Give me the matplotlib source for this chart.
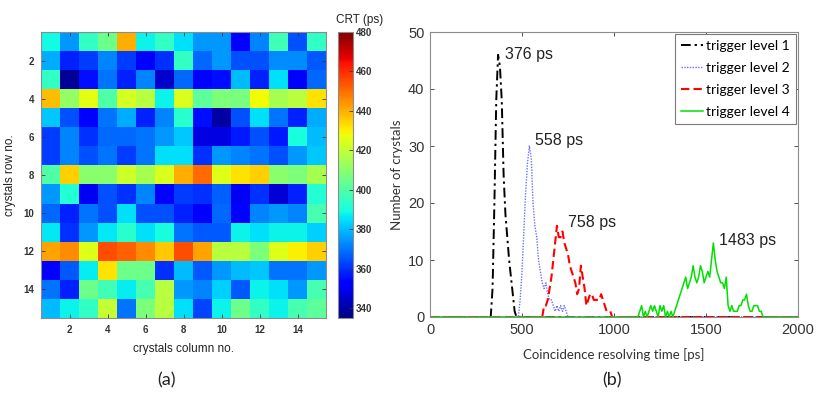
import numpy as np
import matplotlib
matplotlib.use("Agg")
import matplotlib.pyplot as plt

# ---- CRT map (ps), 15 x 15 crystals, row 1 at top ----
crt_map = [
    [389, 375, 395, 405, 440, 388, 395, 385, 375, 375, 352, 372, 397, 365, 395],
    [378, 358, 362, 372, 362, 352, 360, 395, 368, 375, 365, 365, 373, 373, 366],
    [395, 338, 355, 370, 358, 372, 345, 368, 353, 355, 380, 358, 385, 352, 368],
    [438, 412, 426, 400, 423, 418, 388, 424, 402, 408, 407, 428, 415, 418, 432],
    [382, 365, 352, 370, 378, 358, 372, 393, 355, 340, 365, 385, 370, 358, 378],
    [362, 372, 360, 368, 368, 370, 375, 382, 348, 348, 357, 365, 357, 390, 380],
    [362, 372, 365, 370, 362, 370, 385, 385, 360, 375, 372, 370, 365, 375, 382],
    [400, 435, 410, 410, 422, 415, 424, 440, 450, 425, 432, 435, 410, 408, 415],
    [375, 392, 350, 365, 360, 372, 353, 362, 360, 367, 350, 360, 346, 358, 392],
    [368, 358, 370, 365, 385, 365, 365, 358, 352, 368, 352, 372, 375, 372, 398],
    [386, 360, 375, 386, 393, 385, 390, 370, 366, 366, 388, 385, 388, 388, 383],
    [442, 445, 425, 455, 452, 445, 436, 455, 442, 418, 418, 408, 425, 430, 435],
    [352, 366, 387, 432, 405, 405, 360, 380, 366, 375, 380, 382, 370, 370, 375],
    [370, 358, 405, 397, 387, 398, 418, 375, 372, 383, 366, 388, 385, 375, 398],
    [380, 388, 395, 420, 370, 408, 418, 385, 363, 388, 405, 395, 388, 398, 402],
]
crt_min, crt_max = 335, 480
crt_ticks = [340, 360, 380, 400, 420, 440, 460, 480]

# ---- CRT histograms: 10 ps bins, counts listed from a start time ----
bin_width = 10
time_range = (0, 2000)

lvl1_start = 330
lvl1_counts = [0, 5, 20, 38, 46, 44, 38, 25, 18, 14, 10, 7, 4, 1, 0]

lvl2_start = 480
lvl2_counts = [0, 3, 8, 15, 22, 27, 30, 28, 20, 16, 14, 10, 8, 6, 5, 6, 4, 3,
               3, 2, 1, 2, 1, 2, 1, 2, 1, 0]

lvl3_start = 610
lvl3_counts = [0, 2, 2, 3, 5, 7, 10, 13, 16, 14, 14, 15, 13, 12, 11, 9, 8, 7,
               6, 4, 5, 9, 7, 5, 2, 3, 4, 4, 3, 3, 3, 3, 4, 3, 2, 1, 1, 1, 0]

lvl4_start = 1130
lvl4_counts = [0, 1, 2, 0, 1, 0, 1, 2, 1, 2, 1, 0, 2, 1, 2, 0, 1, 0, 1, 0,
               1, 2, 3, 4, 5, 6, 7, 5, 6, 7, 9, 7, 6, 7, 9, 8, 6, 7, 8, 7,
               10, 13, 10, 8, 7, 6, 6, 5, 7, 2, 1, 2, 1, 1, 1, 2, 2, 3, 3, 4,
               2, 1, 1, 2, 2, 2, 1, 1, 0]

peak_labels = ["376 ps", "558 ps", "758 ps", "1483 ps"]
peak_label_pos = [(405, 46.0), (572, 30.9), (748, 16.6), (1572, 13.5)]
legend_labels = ["trigger level 1", "trigger level 2",
                 "trigger level 3", "trigger level 4"]


def full_series(start, counts):
    t = np.arange(time_range[0], time_range[1] + bin_width, bin_width)
    y = np.zeros_like(t, dtype=float)
    i0 = (start - time_range[0]) // bin_width
    y[i0:i0 + len(counts)] = counts
    return t, y


fig = plt.figure(figsize=(8.18, 3.94), dpi=100)
W, H = 818, 394


def px_axes(x0, y0, x1, y1):
    return fig.add_axes([x0 / W, 1 - y1 / H, (x1 - x0) / W, (y1 - y0) / H])


frame_col = "#8c8c8c"
tick_font = "Liberation Sans"
label_font = "Lato"

# ---------------- (a) heatmap ----------------
ax1 = px_axes(41, 32, 326, 318)
data = np.array(crt_map)
n_rows, n_cols = data.shape
im = ax1.imshow(data, cmap="jet", vmin=crt_min, vmax=crt_max,
                extent=(0.5, n_cols + 0.5, n_rows + 0.5, 0.5),
                aspect="auto", interpolation="nearest")
ax1.set_xticks(range(2, n_cols + 1, 2))
ax1.set_yticks(range(2, n_rows + 1, 2))
ax1.tick_params(direction="in", length=3, width=0.6, top=True, right=True,
                labelsize=7, color="#333333", pad=5)
for lab in ax1.get_xticklabels() + ax1.get_yticklabels():
    lab.set_fontfamily(tick_font)
    lab.set_fontweight("bold")
    lab.set_color("#333333")
for s in ax1.spines.values():
    s.set_color(frame_col)
    s.set_linewidth(0.8)
ax1.set_xlabel("crystals column no.", fontsize=8.5, family=tick_font,
               labelpad=6, color="#222222")
ax1.set_ylabel("crystals row no.", fontsize=8.5, family=tick_font, labelpad=5,
               color="#222222")

cax = px_axes(338, 32, 353, 318)
cb = fig.colorbar(im, cax=cax, ticks=crt_ticks)
cb.outline.set_edgecolor(frame_col)
cb.outline.set_linewidth(0.8)
cax.tick_params(direction="in", length=3, width=0.6, labelsize=7, pad=2,
                color="#333333")
for lab in cax.get_yticklabels():
    lab.set_fontfamily(tick_font)
    lab.set_fontweight("bold")
    lab.set_color("#333333")
fig.text(360 / W, 1 - 20 / H, "CRT (ps)", ha="center", va="center",
         fontsize=8.5, family=tick_font, color="#222222")

# ---------------- (b) histograms ----------------
ax2 = px_axes(430, 32, 798, 317)
styles = [
    dict(color="black", linestyle=(0, (5, 2, 1.2, 2)), linewidth=1.4),
    dict(color="#6f6fff", linestyle=(0, (1, 1)), linewidth=1.0),
    dict(color="red", linestyle=(0, (4, 2)), linewidth=1.5),
    dict(color="#00e000", linestyle="-", linewidth=1.1),
]
series = [(lvl1_start, lvl1_counts), (lvl2_start, lvl2_counts),
          (lvl3_start, lvl3_counts), (lvl4_start, lvl4_counts)]
for (start, counts), st, lab in zip(series, styles, legend_labels):
    t, y = full_series(start, counts)
    ax2.plot(t, y, label=lab, **st)

for txt, (x, y) in zip(peak_labels, peak_label_pos):
    ax2.text(x, y, txt, fontsize=11.5, family=tick_font, va="center",
             ha="left", color="#222222")

ax2.set_xlim(0, 2000)
ax2.set_ylim(0, 50)
ax2.set_xticks([0, 500, 1000, 1500, 2000])
ax2.set_yticks([0, 10, 20, 30, 40, 50])
ax2.tick_params(direction="in", length=3, width=0.6, top=True, right=True,
                labelsize=10.5, color="#333333", pad=4)
for lab in ax2.get_xticklabels() + ax2.get_yticklabels():
    lab.set_fontfamily(tick_font)
    lab.set_color("#333333")
for s in ax2.spines.values():
    s.set_color(frame_col)
    s.set_linewidth(0.8)
ax2.set_xlabel("Coincidence resolving time [ps]", fontsize=9.5,
               family=label_font, labelpad=8, color="#333333")
ax2.set_ylabel("Number of crystals", fontsize=9.5, family=label_font,
               labelpad=4, color="#333333")
leg = ax2.legend(loc="upper right", prop=dict(family=label_font, size=10),
                 handlelength=1.6, handletextpad=0.2, borderpad=0.45,
                 labelspacing=0.7, fancybox=False, framealpha=1,
                 borderaxespad=0.15)
leg.get_frame().set_edgecolor("#7a7a7a")
leg.get_frame().set_linewidth(0.8)

fig.text(166 / W, 1 - 380 / H, "(a)", ha="center", va="center",
         fontsize=13, family=label_font, color="#222222")
fig.text(612 / W, 1 - 380 / H, "(b)", ha="center", va="center",
         fontsize=13, family=label_font, color="#222222")

fig.savefig("out.png", dpi=100)
